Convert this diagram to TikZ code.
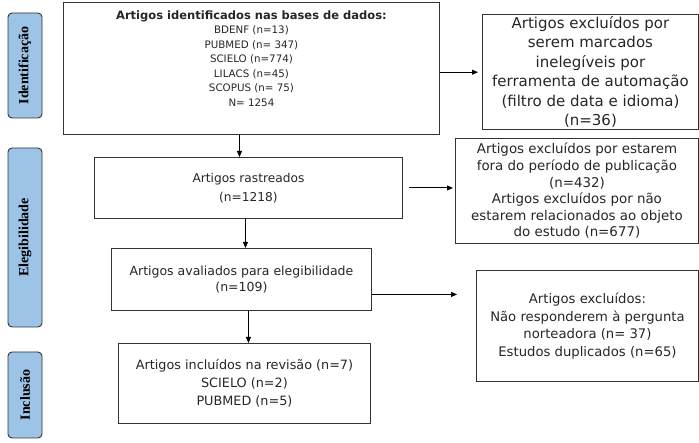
\documentclass[tikz,border=0pt]{standalone}
\usepackage{fontspec}
\setmainfont{DejaVu Sans}
\newfontfamily\sidefont{Liberation Serif}
\usetikzlibrary{arrows.meta}
\definecolor{sideblue}{HTML}{9DC3E6}
\definecolor{edge}{HTML}{333333}
\begin{document}
\begin{tikzpicture}[x=1pt,y=-1pt,
 box/.style={draw=edge,line width=0.9pt,align=center,anchor=north west,inner sep=2pt,text=black!85},
 side/.style={draw=edge,line width=0.9pt,fill=sideblue,rounded corners=4pt,rotate=90,inner sep=0pt,minimum height=34pt,font=\sidefont\bfseries\fontsize{14}{16}\selectfont},
 arr/.style={line width=0.9pt,-{Triangle[length=6pt,width=5pt]}}]
 \useasboundingbox (0,0) rectangle (699,443);
 \node[side,minimum width=105pt] (fase1) at (25,65.5) {Identificação};
 \node[side,minimum width=179pt] (fase2) at (25,237.5) {Elegibilidade};
 \node[side,minimum width=86pt] (fase3) at (25,395) {Inclusão};
 \node[box,minimum width=376pt,minimum height=132pt,text depth=20pt,font=\fontsize{10.3}{14.5}\selectfont] (ident) at (63,2)
  {{\bfseries\fontsize{11.5}{14.5}\selectfont Artigos identificados nas bases de dados:}\\
   BDENF (n=13)\\PUBMED (n= 347)\\SCIELO (n=774)\\LILACS (n=45)\\SCOPUS (n= 75)\\N= 1254};
 \node[box,minimum width=308pt,minimum height=61pt,font=\fontsize{12.2}{19}\selectfont] (rastr) at (94,157)
  {Artigos rastreados\\(n=1218)};
 \node[box,minimum width=260pt,minimum height=62pt,font=\fontsize{12.5}{16}\selectfont] (aval) at (111,248)
  {Artigos avaliados para elegibilidade\\(n=109)};
 \node[box,minimum width=252pt,minimum height=80pt,font=\fontsize{12.8}{18}\selectfont] (incl) at (118,343)
  {Artigos incluídos na revisão (n=7)\\SCIELO (n=2)\\PUBMED (n=5)};
 \node[box,minimum width=216pt,minimum height=112pt,font=\fontsize{15}{19.5}\selectfont] (excl1) at (482,14)
  {Artigos excluídos por\\serem marcados\\inelegíveis por\\ferramenta de automação\\(filtro de data e idioma)\\(n=36)};
 \node[box,minimum width=243pt,minimum height=105pt,font=\fontsize{13.4}{16.6}\selectfont] (excl2) at (455,138)
  {Artigos excluídos por estarem\\fora do período de publicação\\(n=432)\\Artigos excluídos por não\\estarem relacionados ao objeto\\do estudo (n=677)};
 \node[box,minimum width=222pt,minimum height=111pt,font=\fontsize{13.2}{17.5}\selectfont] (excl3) at (476,270)
  {Artigos excluídos:\\Não responderem à pergunta\\norteadora (n= 37)\\Estudos duplicados (n=65)};
 \draw[arr] ([xshift=-12pt]ident.south) -- ([xshift=-12pt]ident.south |- rastr.north);
 \draw[arr] ([xshift=-3pt]rastr.south) -- ([xshift=-3pt]rastr.south |- aval.north);
 \draw[arr] ([xshift=7pt]aval.south) -- ([xshift=7pt]aval.south |- incl.north);
 \draw[arr,shorten >=4pt] (ident.east |- excl1.west) -- (excl1.west);
 \draw[arr,shorten <=6pt,shorten >=2pt] (rastr.east) -- (rastr.east -| excl2.west);
 \draw[arr,shorten >=19pt] ([yshift=-15pt]aval.east) -- ([yshift=-15pt]aval.east -| excl3.west);
\end{tikzpicture}
\end{document}
